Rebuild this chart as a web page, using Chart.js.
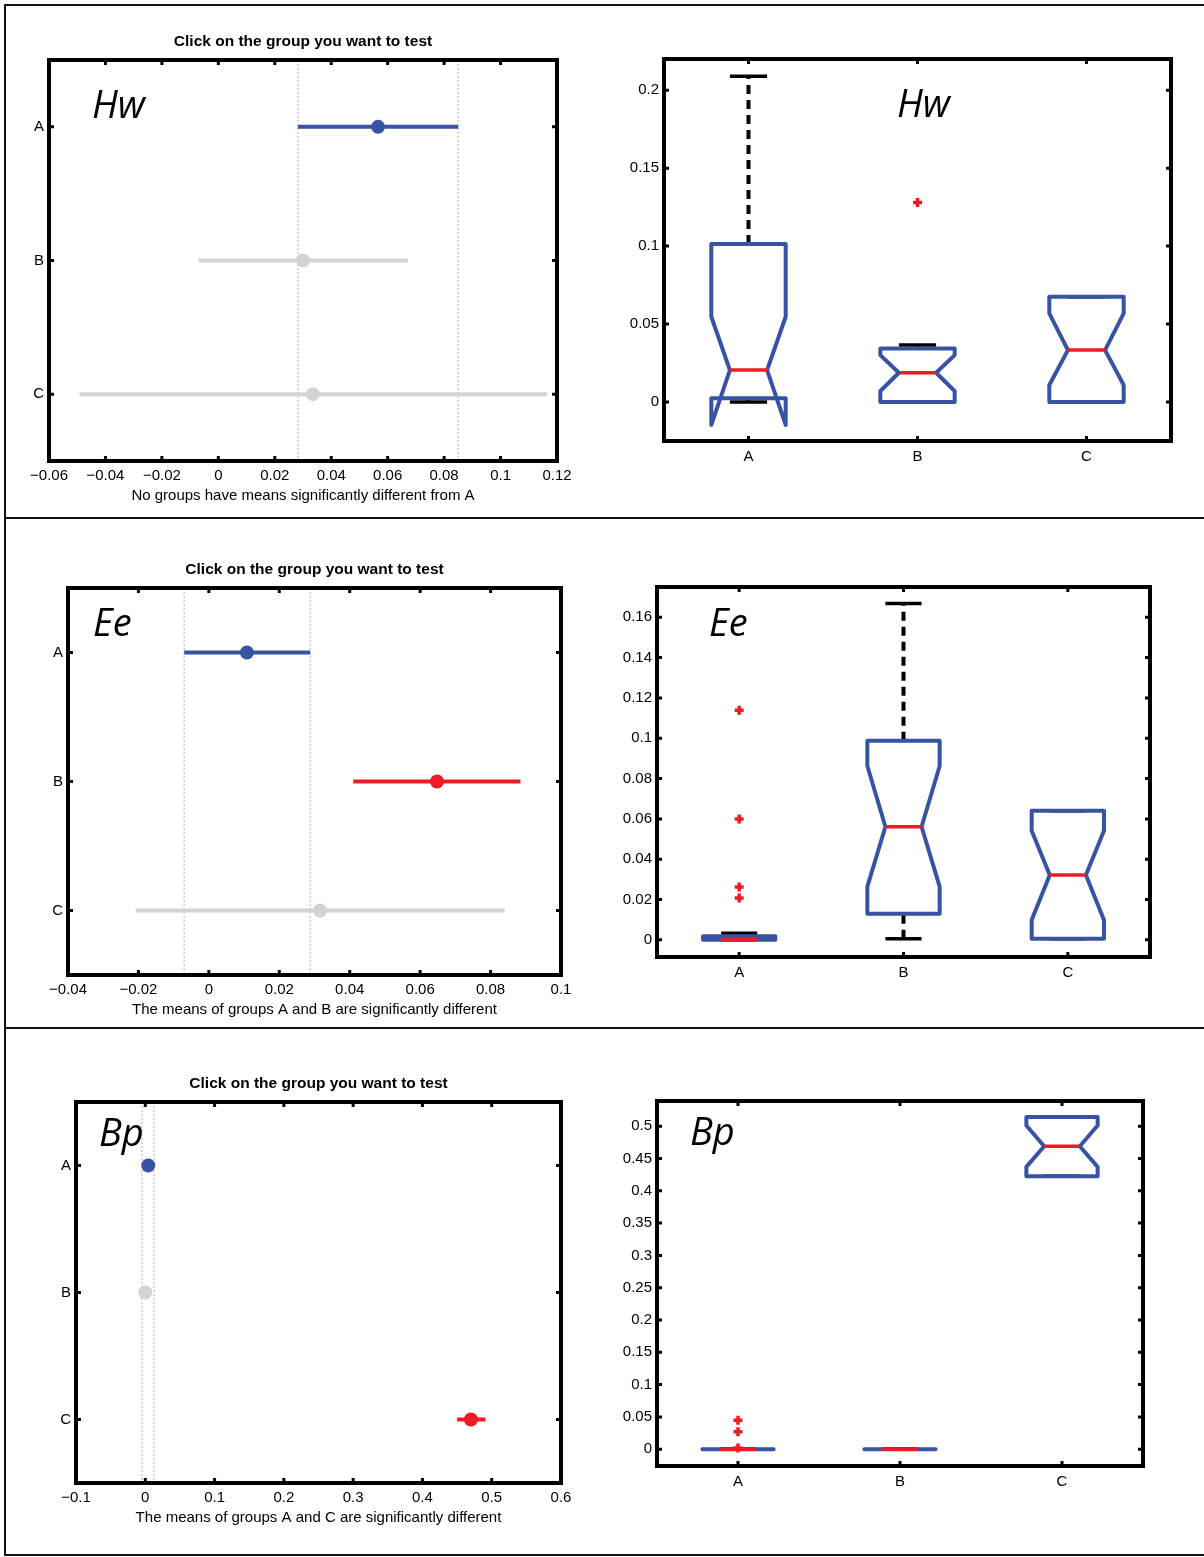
<!DOCTYPE html>
<html>
<head>
<meta charset="utf-8">
<script src="https://cdn.jsdelivr.net/npm/chart.js@4.4.1/dist/chart.umd.min.js"></script>
<style>
  html, body { margin: 0; padding: 0; background: #fff; }
  #page { position: relative; width: 1204px; height: 1557px; overflow: hidden; }
  .rule { position: absolute; background: #111; }
  .panel { position: absolute; }
</style>
</head>
<body>
<div id="page">
  <div class="rule" style="left:4px;top:4px;width:1200px;height:2px"></div>
  <div class="rule" style="left:4px;top:4px;width:2px;height:1552px"></div>
  <div class="rule" style="left:4px;top:517px;width:1200px;height:2px"></div>
  <div class="rule" style="left:4px;top:1027px;width:1200px;height:2px"></div>
  <div class="rule" style="left:4px;top:1554px;width:1200px;height:2px"></div>
</div>
<script>
// groups
const groups = ['A', 'B', 'C'];

// Hw - multiple comparison (mean and interval)
const hwMeans = [0.0566, 0.0300, 0.0335];
const hwLower = [0.0282, -0.0070, -0.0492];
const hwUpper = [0.0850, 0.0672, 0.1165];
const hwStatus = ['selected', 'same', 'same'];
const hwMeanTicks = [-0.06, -0.04, -0.02, 0, 0.02, 0.04, 0.06, 0.08, 0.1, 0.12];
// Hw - notched boxplot
const hwQ1 = [0.0024, 0.0, 0.0];
const hwQ3 = [0.1013, 0.0344, 0.0675];
const hwMedian = [0.0205, 0.0188, 0.0333];
const hwNotchLo = [-0.0147, 0.0071, 0.0109];
const hwNotchHi = [0.0547, 0.0301, 0.0568];
const hwWhiskerLo = [0.0, 0.0, 0.0];
const hwWhiskerHi = [0.209, 0.0365, 0.0675];
const hwOutlierGroup = [2];
const hwOutlierValue = [0.128];
const hwBoxTicks = [0, 0.05, 0.1, 0.15, 0.2];

// Ee - multiple comparison
const eeMeans = [0.0108, 0.0648, 0.0316];
const eeLower = [-0.0070, 0.0410, -0.0208];
const eeUpper = [0.0288, 0.0885, 0.0840];
const eeStatus = ['selected', 'different', 'same'];
const eeMeanTicks = [-0.04, -0.02, 0, 0.02, 0.04, 0.06, 0.08, 0.1];
// Ee - notched boxplot
const eeQ1 = [0.0, 0.0129, 0.0005];
const eeQ3 = [0.0018, 0.0987, 0.0640];
const eeMedian = [0.0003, 0.0561, 0.0322];
const eeNotchLo = [0.0001, 0.0264, 0.0099];
const eeNotchHi = [0.0005, 0.0862, 0.0541];
const eeWhiskerLo = [0.0, 0.0005, 0.0005];
const eeWhiskerHi = [0.0033, 0.1668, 0.0640];
const eeOutlierGroup = [1, 1, 1, 1];
const eeOutlierValue = [0.1139, 0.0599, 0.0262, 0.0208];
const eeBoxTicks = [0, 0.02, 0.04, 0.06, 0.08, 0.1, 0.12, 0.14, 0.16];

// Bp - multiple comparison
const bpMeans = [0.0043, 0.0, 0.470];
const bpLower = [-0.0048, -0.0087, 0.450];
const bpUpper = [0.0126, 0.0087, 0.491];
const bpStatus = ['selected', 'same', 'different'];
const bpMeanTicks = [-0.1, 0, 0.1, 0.2, 0.3, 0.4, 0.5, 0.6];
// Bp - notched boxplot
const bpQ1 = [0, 0, 0.4226];
const bpQ3 = [0, 0, 0.5144];
const bpMedian = [0, 0, 0.469];
const bpNotchLo = [0, 0, 0.437];
const bpNotchHi = [0, 0, 0.501];
const bpWhiskerLo = [0, 0, 0.4226];
const bpWhiskerHi = [0, 0, 0.5144];
const bpOutlierGroup = [1, 1, 1];
const bpOutlierValue = [0.045, 0.027, 0.002];
const bpBoxTicks = [0, 0.05, 0.1, 0.15, 0.2, 0.25, 0.3, 0.35, 0.4, 0.45, 0.5];

// styles
const statusColors = { selected: '#3953a4', different: '#ed1c24', same: '#d1d3d4' };
const boxBlue = '#3953a4';
const medianRed = '#ed1c24';
const BOX_HALF = 0.22;
const FONT = "'Liberation Sans', Arial, Helvetica, sans-serif";

Chart.defaults.font.family = FONT;
Chart.defaults.font.size = 15;
Chart.defaults.color = '#000';

function fmtTick(v) {
    const s = String(Math.round(v * 1e4) / 1e4);
    return s.replace('-', '\u2212');
}

// frame, inward ticks and italic tag
const framePlugin = {
    id: 'frame',
    afterDatasetsDraw(chart, args, opts) {
        const { ctx, chartArea: a, scales } = chart;
        ctx.save();
        ctx.strokeStyle = '#000';
        ctx.lineWidth = 3;
        ctx.beginPath();
        scales.x.ticks.forEach(t => {
            const px = scales.x.getPixelForValue(t.value);
            ctx.moveTo(px, a.bottom); ctx.lineTo(px, a.bottom - 5);
            ctx.moveTo(px, a.top); ctx.lineTo(px, a.top + 5);
        });
        scales.y.ticks.forEach(t => {
            const py = scales.y.getPixelForValue(t.value);
            ctx.moveTo(a.left, py); ctx.lineTo(a.left + 5, py);
            ctx.moveTo(a.right, py); ctx.lineTo(a.right - 5, py);
        });
        ctx.stroke();
        ctx.lineWidth = 4;
        ctx.strokeRect(a.left, a.top, a.right - a.left, a.bottom - a.top);
        if (opts.tag) {
            ctx.fillStyle = '#000';
            ctx.font = "italic 38px 'Open Sans', 'DejaVu Sans', sans-serif";
            ctx.textBaseline = 'alphabetic';
            ctx.textAlign = 'left';
            ctx.fillText(opts.tag, a.left + opts.dx, a.top + opts.dy);
        }
        ctx.restore();
    }
};

function makeCanvas(area) {
    const wrap = document.createElement('div');
    wrap.className = 'panel';
    wrap.style.left = (area.L - 60) + 'px';
    wrap.style.top = (area.T - 40) + 'px';
    const canvas = document.createElement('canvas');
    canvas.width = area.R - area.L + 100;
    canvas.height = area.B - area.T + 100;
    wrap.appendChild(canvas);
    document.getElementById('page').appendChild(wrap);
    return canvas;
}

function baseOptions(cfg) {
    return {
        responsive: false,
        animation: false,
        events: [],
        layout: { padding: { left: 15, right: 40, bottom: 15, top: cfg.title ? 0 : 40 } },
        plugins: {
            legend: { display: false },
            tooltip: { enabled: false },
            title: cfg.title ? {
                display: true, text: cfg.title, fullSize: false,
                padding: { top: 12.7, bottom: 8.7 },
                font: { size: 15.5, weight: 'bold' }, color: '#000'
            } : { display: false },
            frame: { tag: cfg.tag, dx: cfg.tagPos[0], dy: cfg.tagPos[1] }
        }
    };
}

const noGrid = { display: false, drawTicks: false };

// multiple comparison chart (left column)
function makeMeansChart(cfg) {
    const canvas = makeCanvas(cfg.area);
    const sel = cfg.status.indexOf('selected');
    const datasets = [];
    cfg.means.forEach((m, i) => {
        datasets.push({
            data: [{ x: cfg.lower[i], y: i + 1 }, { x: cfg.upper[i], y: i + 1 }],
            showLine: true, borderColor: statusColors[cfg.status[i]], borderWidth: 4,
            borderCapStyle: 'butt', pointRadius: 0, order: 2
        });
    });
    datasets.push({
        data: cfg.means.map((m, i) => ({ x: m, y: i + 1 })),
        pointRadius: 7, pointBorderWidth: 0,
        pointBackgroundColor: cfg.status.map(s => statusColors[s]), order: 1
    });
    [cfg.lower[sel], cfg.upper[sel]].forEach(v => {
        datasets.push({
            data: [{ x: v, y: 0.5 }, { x: v, y: 3.5 }],
            showLine: true, borderColor: '#cccccc', borderWidth: 1.5, borderDash: [2, 2],
            pointRadius: 0, order: 5
        });
    });
    const opts = baseOptions(cfg);
    opts.scales = {
        x: {
            type: 'linear', min: cfg.ticks[0], max: cfg.ticks[cfg.ticks.length - 1],
            grid: noGrid, border: { display: false },
            afterBuildTicks: s => { s.ticks = cfg.ticks.map(v => ({ value: v })); },
            afterFit: s => { s.height = 45; },
            ticks: { callback: fmtTick, padding: 6, maxRotation: 0, autoSkip: false },
            title: { display: true, text: cfg.xlabel, padding: { top: 0, bottom: 1 } }
        },
        y: {
            type: 'linear', min: 0.5, max: 3.5, reverse: true,
            grid: noGrid, border: { display: false },
            afterBuildTicks: s => { s.ticks = groups.map((g, i) => ({ value: i + 1 })); },
            afterFit: s => { s.width = 45; },
            ticks: { callback: v => groups[v - 1], padding: 5, autoSkip: false }
        }
    };
    return new Chart(canvas, { type: 'scatter', data: { datasets }, options: opts, plugins: [framePlugin] });
}

// notched boxplot chart (right column)
function makeBoxChart(cfg) {
    const canvas = makeCanvas(cfg.area);
    const w = BOX_HALF, nw = BOX_HALF / 2;
    const datasets = [];
    groups.forEach((g, i) => {
        const x = i + 1;
        const line = (pts, color, width, dash, order, cap) => datasets.push({
            data: pts, showLine: true, borderColor: color, borderWidth: width,
            borderDash: dash, borderCapStyle: cap || 'butt', borderJoinStyle: 'round',
            pointRadius: 0, order
        });
        // whiskers and caps
        line([{ x, y: cfg.q3[i] }, { x, y: cfg.whiskerHi[i] }], '#000', 4, [9, 6], 4);
        line([{ x, y: cfg.whiskerLo[i] }, { x, y: cfg.q1[i] }], '#000', 4, [9, 6], 4);
        line([{ x: x - nw, y: cfg.whiskerHi[i] }, { x: x + nw, y: cfg.whiskerHi[i] }], '#000', 3.5, [], 3);
        line([{ x: x - nw, y: cfg.whiskerLo[i] }, { x: x + nw, y: cfg.whiskerLo[i] }], '#000', 3.5, [], 3);
        // notched box outline
        line([
            { x: x - w, y: cfg.q3[i] }, { x: x - w, y: cfg.notchHi[i] },
            { x: x - nw, y: cfg.median[i] }, { x: x - w, y: cfg.notchLo[i] },
            { x: x - w, y: cfg.q1[i] }, { x: x + w, y: cfg.q1[i] },
            { x: x + w, y: cfg.notchLo[i] }, { x: x + nw, y: cfg.median[i] },
            { x: x + w, y: cfg.notchHi[i] }, { x: x + w, y: cfg.q3[i] },
            { x: x - w, y: cfg.q3[i] }
        ], boxBlue, 4, [], 2, 'round');
        // median
        line([{ x: x - nw, y: cfg.median[i] }, { x: x + nw, y: cfg.median[i] }], medianRed, 3.5, [], 1);
    });
    datasets.push({
        data: cfg.outGroup.map((g, k) => ({ x: g, y: cfg.outValue[k] })),
        pointStyle: 'cross', pointRadius: 4.5, pointBorderWidth: 3.5,
        pointBorderColor: medianRed, order: 0
    });
    const opts = baseOptions(cfg);
    opts.scales = {
        x: {
            type: 'linear', min: 0.5, max: 3.5,
            grid: noGrid, border: { display: false },
            afterBuildTicks: s => { s.ticks = groups.map((g, i) => ({ value: i + 1 })); },
            afterFit: s => { s.height = 45; },
            ticks: { callback: v => groups[v - 1], padding: 7, maxRotation: 0, autoSkip: false }
        },
        y: {
            type: 'linear', min: cfg.yMin, max: cfg.yMax,
            grid: noGrid, border: { display: false },
            afterBuildTicks: s => { s.ticks = cfg.ticks.map(v => ({ value: v })); },
            afterFit: s => { s.width = 45; },
            ticks: { callback: fmtTick, padding: 5, autoSkip: false }
        }
    };
    return new Chart(canvas, { type: 'scatter', data: { datasets }, options: opts, plugins: [framePlugin] });
}

const clickTitle = 'Click on the group you want to test';

makeMeansChart({
    area: { L: 49, T: 60, R: 557, B: 461 }, title: clickTitle,
    xlabel: 'No groups have means significantly different from A',
    means: hwMeans, lower: hwLower, upper: hwUpper, status: hwStatus, ticks: hwMeanTicks,
    tag: 'Hw', tagPos: [43, 58]
});
makeBoxChart({
    area: { L: 664, T: 59, R: 1171, B: 441 }, yMin: -0.025, yMax: 0.22, ticks: hwBoxTicks,
    q1: hwQ1, q3: hwQ3, median: hwMedian, notchLo: hwNotchLo, notchHi: hwNotchHi,
    whiskerLo: hwWhiskerLo, whiskerHi: hwWhiskerHi, outGroup: hwOutlierGroup, outValue: hwOutlierValue,
    tag: 'Hw', tagPos: [233, 58]
});
makeMeansChart({
    area: { L: 68, T: 588, R: 561, B: 975 }, title: clickTitle,
    xlabel: 'The means of groups A and B are significantly different',
    means: eeMeans, lower: eeLower, upper: eeUpper, status: eeStatus, ticks: eeMeanTicks,
    tag: 'Ee', tagPos: [25, 48]
});
makeBoxChart({
    area: { L: 657, T: 587, R: 1150, B: 957 }, yMin: -0.0085, yMax: 0.175, ticks: eeBoxTicks,
    q1: eeQ1, q3: eeQ3, median: eeMedian, notchLo: eeNotchLo, notchHi: eeNotchHi,
    whiskerLo: eeWhiskerLo, whiskerHi: eeWhiskerHi, outGroup: eeOutlierGroup, outValue: eeOutlierValue,
    tag: 'Ee', tagPos: [52, 49]
});
makeMeansChart({
    area: { L: 76, T: 1102, R: 561, B: 1483 }, title: clickTitle,
    xlabel: 'The means of groups A and C are significantly different',
    means: bpMeans, lower: bpLower, upper: bpUpper, status: bpStatus, ticks: bpMeanTicks,
    tag: 'Bp', tagPos: [23, 44]
});
makeBoxChart({
    area: { L: 657, T: 1101, R: 1143, B: 1466 }, yMin: -0.026, yMax: 0.539, ticks: bpBoxTicks,
    q1: bpQ1, q3: bpQ3, median: bpMedian, notchLo: bpNotchLo, notchHi: bpNotchHi,
    whiskerLo: bpWhiskerLo, whiskerHi: bpWhiskerHi, outGroup: bpOutlierGroup, outValue: bpOutlierValue,
    tag: 'Bp', tagPos: [33, 44]
});
</script>
</body>
</html>
